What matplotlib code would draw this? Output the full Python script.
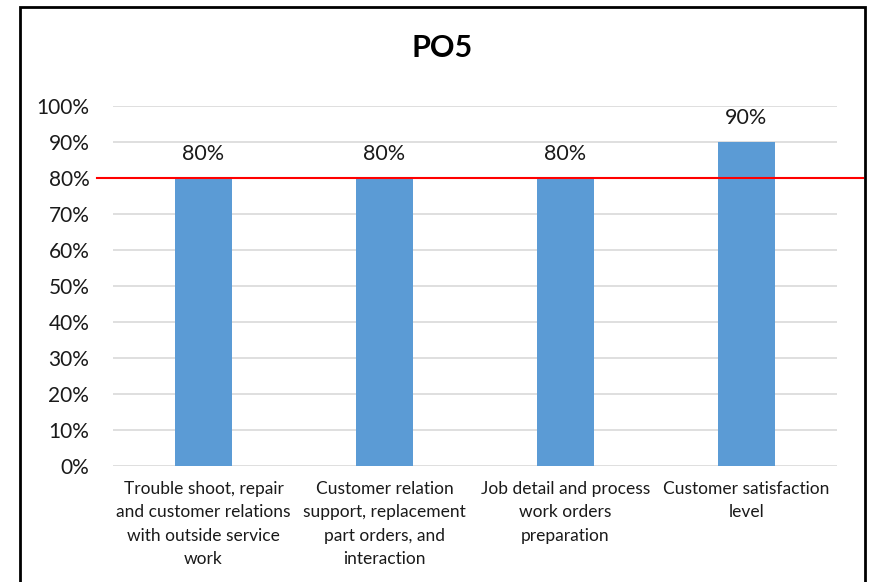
import matplotlib
matplotlib.use("Agg")
import matplotlib.pyplot as plt
from matplotlib.patches import Rectangle
from matplotlib.ticker import PercentFormatter

plt.rcParams['font.family'] = ['Lato', 'DejaVu Sans']

categories = [
    "Trouble shoot, repair\nand customer relations\nwith outside service\nwork",
    "Customer relation\nsupport, replacement\npart orders, and\ninteraction",
    "Job detail and process\nwork orders\npreparation",
    "Customer satisfaction\nlevel",
]
scores = [0.80, 0.80, 0.80, 0.90]
target = 0.80
title = "PO5"

fig = plt.figure(figsize=(8.69, 5.82), dpi=100)
ax = fig.add_axes([0.130, 0.1993, 0.833, 0.6186])

x = range(len(scores))
bars = ax.bar(x, scores, width=0.315, color="#5B9BD5", zorder=2)
for b, v in zip(bars, scores):
    ax.annotate(f"{v:.0%}", (b.get_x() + b.get_width() / 2, v),
                xytext=(0, 10), textcoords="offset points",
                ha="center", va="bottom", fontsize=15.5, color="#1a1a1a")

ax.set_xlim(-0.5, len(scores) - 0.5)
ax.set_ylim(0, 1.0)
ax.set_yticks([i / 10 for i in range(11)])
ax.yaxis.set_major_formatter(PercentFormatter(1.0, decimals=0))
ax.set_xticks(list(x))
ax.set_xticklabels(categories, fontsize=12.5, linespacing=1.55, color="#1a1a1a")
ax.tick_params(axis="y", length=0, pad=17, labelsize=15, labelcolor="#1a1a1a")
ax.tick_params(axis="x", length=0, pad=11)
ax.grid(axis="y", color="#D9D9D9", lw=1.2, zorder=0)
for s in ax.spines.values():
    s.set_visible(False)

# target line runs past the plot area on both sides
ax.axhline(target, xmin=-0.022, xmax=1.036, color="red", lw=1.5,
           clip_on=False, zorder=3)

fig.text(0.509, 0.918, title, ha="center", va="center",
         fontsize=22, fontweight="bold")

fig.patches.append(Rectangle((20 / 869, -0.05), 845 / 869, 1.05 - 7 / 582,
                             transform=fig.transFigure, fill=False,
                             edgecolor="black", lw=2))

fig.savefig("out.png", dpi=100)
